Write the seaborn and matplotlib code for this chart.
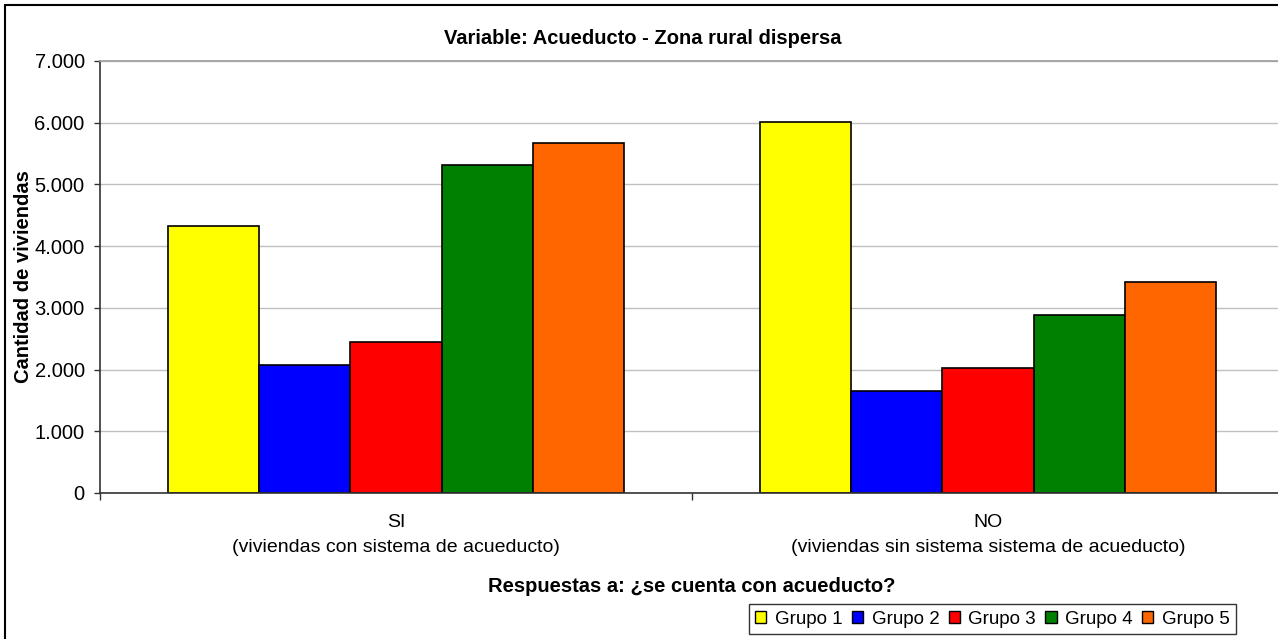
import matplotlib
matplotlib.use("Agg")
import matplotlib.pyplot as plt
import matplotlib.ticker as mticker
from matplotlib.patches import Rectangle, Patch
import seaborn as sns
import pandas as pd

categories = ["SI\n(viviendas con sistema de acueducto)",
              "NO\n(viviendas sin sistema sistema de acueducto)"]
groups = ["Grupo 1", "Grupo 2", "Grupo 3", "Grupo 4", "Grupo 5"]
values_si = [4320, 2070, 2450, 5310, 5670]
values_no = [6010, 1660, 2020, 2890, 3420]
colors = ["#FFFF00", "#0000FF", "#FF0000", "#008000", "#FF6600"]

rows = []
for cat, vals in zip(categories, [values_si, values_no]):
    for g, v in zip(groups, vals):
        rows.append({"cat": cat, "grupo": g, "val": v})
df = pd.DataFrame(rows)

sns.set_theme(style="white")
plt.rcParams["font.family"] = ["Liberation Sans", "DejaVu Sans"]
plt.rcParams["text.color"] = "black"
plt.rcParams["axes.labelcolor"] = "black"
plt.rcParams["xtick.color"] = "black"
plt.rcParams["ytick.color"] = "black"

W, H = 1278, 639
fig = plt.figure(figsize=(W / 100, H / 100), dpi=100)
ax = fig.add_axes([100 / W, 1 - 493 / H, 1184 / W, 432 / H])

sns.barplot(data=df, x="cat", y="val", hue="grupo", order=categories,
            hue_order=groups, palette=colors, width=0.77, edgecolor="black",
            linewidth=1.2, saturation=1, ax=ax, legend=False, errorbar=None)

ax.set_xlim(-0.5, 1.5)
ax.set_ylim(0, 7000)
ax.yaxis.set_major_locator(mticker.MultipleLocator(1000))
ax.yaxis.set_major_formatter(mticker.FuncFormatter(
    lambda v, p: f"{int(v):,}".replace(",", ".")))
ax.grid(axis="y", color="#c0c0c0", linewidth=1)
ax.set_axisbelow(True)

for s in ["left", "bottom"]:
    ax.spines[s].set_color("#333333")
    ax.spines[s].set_linewidth(1.2)
ax.spines["top"].set_color("#a0a0a0")
ax.spines["right"].set_visible(False)

ax.tick_params(axis="y", which="major", left=True, length=4, width=1,
               color="#333333", labelsize=14.5, pad=7)
ax.tick_params(axis="x", which="major", bottom=False, labelsize=14, pad=9)
ax.set_xticks([-0.5, 0.5, 1.5], minor=True)
ax.tick_params(axis="x", which="minor", bottom=True, length=5, width=1,
               color="#333333")
for lab in ax.get_xticklabels():
    lab.set_linespacing(1.65)

ax.set_xlabel("Respuestas a: ¿se cuenta con acueducto?", fontsize=14.5,
              fontweight="bold", labelpad=15)
ax.set_ylabel("Cantidad de viviendas", fontsize=14.5, fontweight="bold")
ax.yaxis.set_label_coords(-0.057, 0.5)
fig.text(643 / W, 1 - 38 / H, "Variable: Acueducto - Zona rural dispersa",
         fontsize=14.5, fontweight="bold", ha="center", va="center")

handles = [Patch(facecolor=c, edgecolor="black", linewidth=1) for c in colors]
leg = fig.legend(handles, groups, loc="upper right",
                 bbox_to_anchor=(1236 / W, 1 - 604 / H), ncol=5, fontsize=13.5,
                 frameon=True, fancybox=False, handlelength=0.6,
                 handleheight=0.6, handletextpad=0.45, columnspacing=0.5,
                 borderpad=0.35, borderaxespad=0)
leg.get_frame().set_edgecolor("black")
leg.get_frame().set_linewidth(1)

fig.patches.append(Rectangle((5 / W, -0.1), 1.2, 1.1 - 5 / H,
                             transform=fig.transFigure, fill=False,
                             edgecolor="black", linewidth=1.5))

fig.savefig("out.png", dpi=100, facecolor="white")
